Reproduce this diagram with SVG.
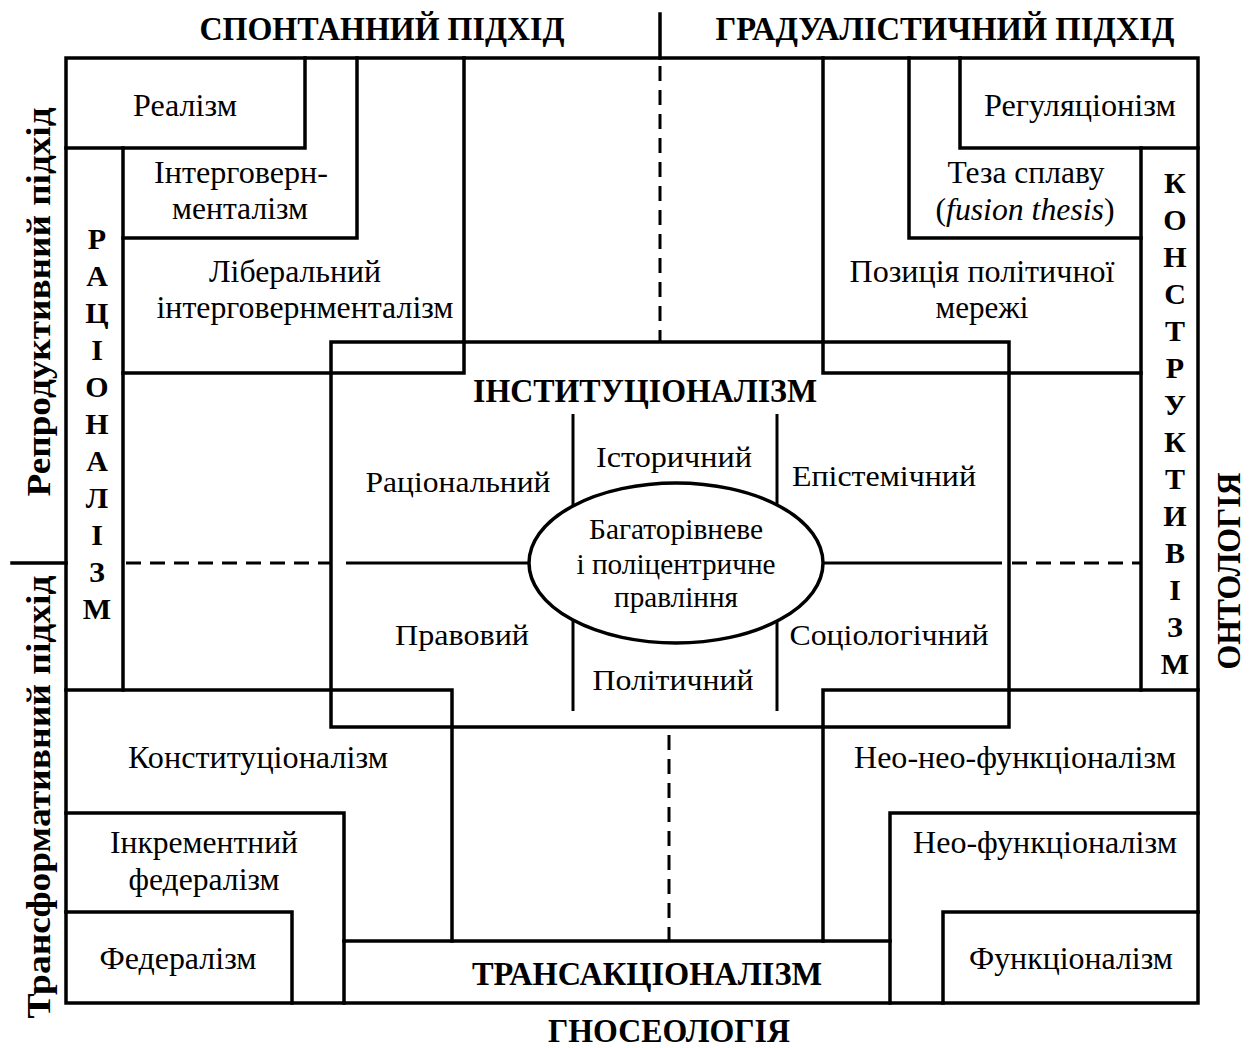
<svg xmlns="http://www.w3.org/2000/svg" width="1253" height="1048" viewBox="0 0 1253 1048">
<style>
  .ln { stroke: #000; stroke-width: 3.5; fill: none; stroke-linecap: square; }
  .thin { stroke: #000; stroke-width: 3; fill: none; }
  .dash { stroke: #000; stroke-width: 3; fill: none; stroke-dasharray: 15 9; }
  .t { font-family: "Liberation Serif", "Times New Roman", serif; font-size: 32px; text-anchor: middle; fill: #000; }
  .c { font-family: "Liberation Serif", "Times New Roman", serif; font-size: 30px; text-anchor: middle; fill: #000; }
  .b { font-family: "Liberation Serif", "Times New Roman", serif; font-size: 33px; font-weight: bold; text-anchor: middle; fill: #000; }
  .v { font-family: "Liberation Serif", "Times New Roman", serif; font-size: 30px; font-weight: bold; text-anchor: middle; fill: #000; }
</style>
<rect width="1253" height="1048" fill="#fff"/>

<g id="connectors">
  <rect class="ln" x="66" y="58" width="1132" height="945"/>
  <line class="ln" x1="660" y1="14" x2="660" y2="58"/>
  <line class="ln" x1="12" y1="563" x2="66" y2="563"/>
  <path class="ln" d="M66 148 H305 V58"/>
  <line class="ln" x1="123" y1="148" x2="123" y2="690"/>
  <path class="ln" d="M123 238 H357 V58"/>
  <path class="ln" d="M123 373 H464 V58"/>
  <path class="ln" d="M1198 148 H960 V58"/>
  <line class="ln" x1="1141" y1="148" x2="1141" y2="690"/>
  <path class="ln" d="M1141 238 H909 V58"/>
  <path class="ln" d="M1141 373 H823 V58"/>
  <path class="ln" d="M66 690 H452 V941"/>
  <path class="ln" d="M66 813 H344 V1003"/>
  <path class="ln" d="M66 912 H292 V1003"/>
  <line class="ln" x1="344" y1="941" x2="890" y2="941"/>
  <path class="ln" d="M1198 690 H823 V941"/>
  <path class="ln" d="M1198 813 H890 V1003"/>
  <path class="ln" d="M1198 912 H943 V1003"/>
  <rect class="ln" x="331" y="342" width="678" height="385"/>
  <line class="dash" x1="660" y1="66" x2="660" y2="342"/>
  <line class="dash" x1="669" y1="735" x2="669" y2="941"/>
  <line class="dash" x1="126" y1="563" x2="331" y2="563"/>
  <line class="dash" x1="1012" y1="563" x2="1141" y2="563"/>
  <line class="thin" x1="346" y1="563" x2="530" y2="563"/>
  <line class="thin" x1="822" y1="563" x2="1002" y2="563"/>
  <line class="thin" x1="573" y1="414" x2="573" y2="510"/>
  <line class="thin" x1="777" y1="414" x2="777" y2="510"/>
  <line class="thin" x1="573" y1="616" x2="573" y2="711"/>
  <line class="thin" x1="777" y1="616" x2="777" y2="711"/>
</g>

<g id="headers">
  <text class="b" x="382" y="40" font-size="34" textLength="365" lengthAdjust="spacingAndGlyphs">СПОНТАННИЙ ПІДХІД</text>
  <text class="b" x="945" y="40" font-size="34" textLength="459" lengthAdjust="spacingAndGlyphs">ГРАДУАЛІСТИЧНИЙ ПІДХІД</text>
  <text class="b" x="669" y="1042" font-size="32" textLength="242" lengthAdjust="spacingAndGlyphs">ГНОСЕОЛОГІЯ</text>
  <text class="b" transform="translate(50,302) rotate(-90)" x="0" y="0" font-size="35" textLength="389" lengthAdjust="spacingAndGlyphs">Репродуктивний підхід</text>
  <text class="b" transform="translate(50,797) rotate(-90)" x="0" y="0" font-size="35" textLength="443" lengthAdjust="spacingAndGlyphs">Трансформативний підхід</text>
  <text class="b" transform="translate(1240,571) rotate(-90)" x="0" y="0" font-size="32" textLength="197" lengthAdjust="spacingAndGlyphs">ОНТОЛОГІЯ</text>
</g>

<g id="rationalism">
  <text class="v" x="97" y="249">Р</text>
  <text class="v" x="97" y="286">А</text>
  <text class="v" x="97" y="323">Ц</text>
  <text class="v" x="97" y="360">І</text>
  <text class="v" x="97" y="397">О</text>
  <text class="v" x="97" y="434">Н</text>
  <text class="v" x="97" y="471">А</text>
  <text class="v" x="97" y="508">Л</text>
  <text class="v" x="97" y="545">І</text>
  <text class="v" x="97" y="582">З</text>
  <text class="v" x="97" y="619">М</text>
</g>

<g id="constructivism">
  <text class="v" x="1175" y="193">К</text>
  <text class="v" x="1175" y="230">О</text>
  <text class="v" x="1175" y="267">Н</text>
  <text class="v" x="1175" y="304">С</text>
  <text class="v" x="1175" y="341">Т</text>
  <text class="v" x="1175" y="378">Р</text>
  <text class="v" x="1175" y="415">У</text>
  <text class="v" x="1175" y="452">К</text>
  <text class="v" x="1175" y="489">Т</text>
  <text class="v" x="1175" y="526">И</text>
  <text class="v" x="1175" y="563">В</text>
  <text class="v" x="1175" y="600">І</text>
  <text class="v" x="1175" y="637">З</text>
  <text class="v" x="1175" y="674">М</text>
</g>

<g id="realism"><text class="t" x="185" y="116" textLength="104" lengthAdjust="spacingAndGlyphs">Реалізм</text></g>
<g id="intergovernmentalism">
  <text class="t" x="241" y="183" textLength="174" lengthAdjust="spacingAndGlyphs">Інтерговерн-</text>
  <text class="t" x="240" y="219" textLength="136" lengthAdjust="spacingAndGlyphs">менталізм</text>
</g>
<g id="liberal-intergovernmentalism">
  <text class="t" x="295" y="282" textLength="172" lengthAdjust="spacingAndGlyphs">Ліберальний</text>
  <text class="t" x="305" y="318" textLength="297" lengthAdjust="spacingAndGlyphs">інтерговернменталізм</text>
</g>
<g id="regulationism"><text class="t" x="1080" y="116" textLength="192" lengthAdjust="spacingAndGlyphs">Регуляціонізм</text></g>
<g id="fusion-thesis">
  <text class="t" x="1026" y="183" textLength="157" lengthAdjust="spacingAndGlyphs">Теза сплаву</text>
  <text class="t" x="1025" y="220" textLength="179" lengthAdjust="spacingAndGlyphs">(<tspan font-style="italic">fusion thesis</tspan>)</text>
</g>
<g id="policy-network">
  <text class="t" x="982" y="282" textLength="265" lengthAdjust="spacingAndGlyphs">Позиція політичної</text>
  <text class="t" x="982" y="318" textLength="93" lengthAdjust="spacingAndGlyphs">мережі</text>
</g>
<g id="constitutionalism"><text class="t" x="258" y="768" textLength="260" lengthAdjust="spacingAndGlyphs">Конституціоналізм</text></g>
<g id="incremental-federalism">
  <text class="t" x="204" y="853" textLength="188" lengthAdjust="spacingAndGlyphs">Інкрементний</text>
  <text class="t" x="204" y="890" textLength="151" lengthAdjust="spacingAndGlyphs">федералізм</text>
</g>
<g id="federalism"><text class="t" x="178" y="969" textLength="157" lengthAdjust="spacingAndGlyphs">Федералізм</text></g>
<g id="neo-neo-functionalism"><text class="t" x="1015" y="768" textLength="322" lengthAdjust="spacingAndGlyphs">Нео-нео-функціоналізм</text></g>
<g id="neo-functionalism"><text class="t" x="1045" y="853" textLength="264" lengthAdjust="spacingAndGlyphs">Нео-функціоналізм</text></g>
<g id="functionalism"><text class="t" x="1071" y="969" textLength="204" lengthAdjust="spacingAndGlyphs">Функціоналізм</text></g>
<g id="transactionalism"><text class="b" x="647" y="985" textLength="350" lengthAdjust="spacingAndGlyphs">ТРАНСАКЦІОНАЛІЗМ</text></g>

<g id="institutionalism">
  <text class="b" x="645" y="402" textLength="344" lengthAdjust="spacingAndGlyphs">ІНСТИТУЦІОНАЛІЗМ</text>
  <text class="c" x="458" y="492" textLength="185" lengthAdjust="spacingAndGlyphs">Раціональний</text>
  <text class="c" x="674" y="467" textLength="156" lengthAdjust="spacingAndGlyphs">Історичний</text>
  <text class="c" x="884" y="486" textLength="184" lengthAdjust="spacingAndGlyphs">Епістемічний</text>
  <text class="c" x="462" y="645" textLength="134" lengthAdjust="spacingAndGlyphs">Правовий</text>
  <text class="c" x="889" y="645" textLength="199" lengthAdjust="spacingAndGlyphs">Соціологічний</text>
  <text class="c" x="673" y="690" textLength="161" lengthAdjust="spacingAndGlyphs">Політичний</text>
</g>

<g id="multilevel-governance">
  <ellipse cx="676" cy="563" rx="147" ry="80" fill="#fff" stroke="#000" stroke-width="3.5"/>
  <text class="c" x="676" y="539" textLength="174" lengthAdjust="spacingAndGlyphs">Багаторівневе</text>
  <text class="c" x="676" y="574" textLength="199" lengthAdjust="spacingAndGlyphs">і поліцентричне</text>
  <text class="c" x="676" y="607" textLength="124" lengthAdjust="spacingAndGlyphs">правління</text>
</g>
</svg>
